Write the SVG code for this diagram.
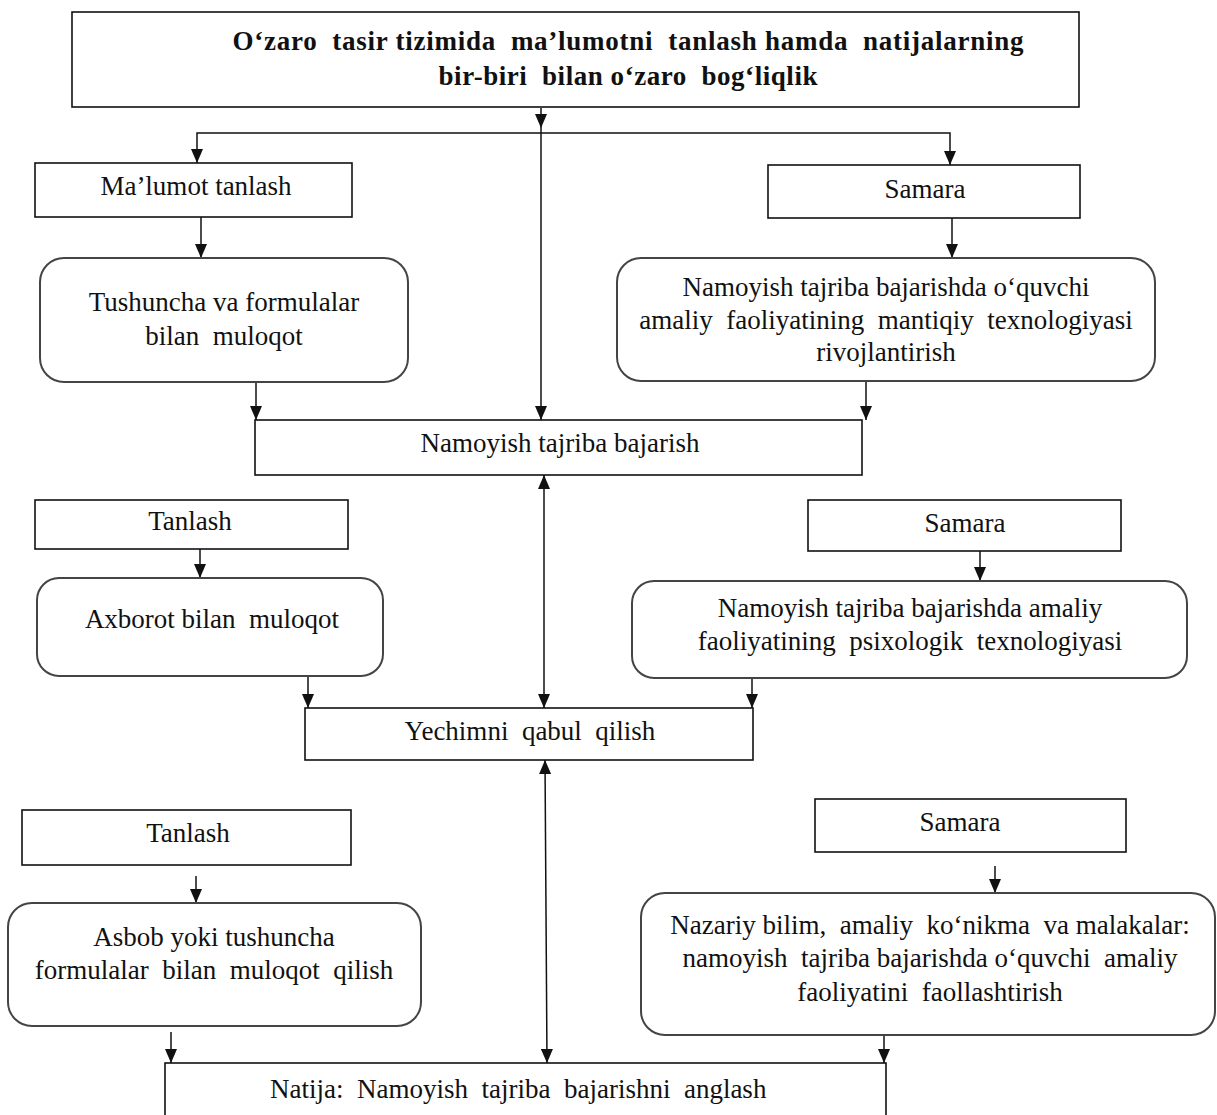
<svg xmlns="http://www.w3.org/2000/svg" width="1217" height="1115" viewBox="0 0 1217 1115">
<defs>
<style>
.box{fill:#fff;stroke:#111;stroke-width:1.6}
.rbox{fill:#fff;stroke:#444;stroke-width:2}
.t{font-family:"Liberation Serif","Times New Roman",serif;font-size:27px;fill:#111;text-anchor:middle;white-space:pre}
.tb{font-family:"Liberation Serif","Times New Roman",serif;font-size:27px;font-weight:bold;fill:#111;text-anchor:middle;white-space:pre}
.c{fill:none;stroke:#111;stroke-width:1.5}
</style>
<marker id="ah" viewBox="0 0 14 12" refX="14" refY="6" markerWidth="14" markerHeight="12" markerUnits="userSpaceOnUse" orient="auto-start-reverse">
<path d="M0,0 L14,6 L0,12 z" fill="#111"/>
</marker>
</defs>
<rect width="1217" height="1115" fill="#fff"/>

<g id="connectors">
<path class="c" d="M541,108 V128" marker-end="url(#ah)"/>
<path class="c" d="M541,128 V420" marker-end="url(#ah)"/>
<path class="c" d="M541,133 H197 V163" marker-end="url(#ah)"/>
<path class="c" d="M541,133 H950 V165" marker-end="url(#ah)"/>
<path class="c" d="M201,217 V258" marker-end="url(#ah)"/>
<path class="c" d="M256,382 V420" marker-end="url(#ah)"/>
<path class="c" d="M952,218 V258" marker-end="url(#ah)"/>
<path class="c" d="M866,381 V420" marker-end="url(#ah)"/>
<path class="c" d="M544,475 V708" marker-start="url(#ah)" marker-end="url(#ah)"/>
<path class="c" d="M200,549 V578" marker-end="url(#ah)"/>
<path class="c" d="M308,676 V708" marker-end="url(#ah)"/>
<path class="c" d="M980,551 V581" marker-end="url(#ah)"/>
<path class="c" d="M752,678 V708" marker-end="url(#ah)"/>
<path class="c" d="M545,760 L547,1063" marker-start="url(#ah)" marker-end="url(#ah)"/>
<path class="c" d="M196,876 V903" marker-end="url(#ah)"/>
<path class="c" d="M171,1032 V1063" marker-end="url(#ah)"/>
<path class="c" d="M995,866 V893" marker-end="url(#ah)"/>
<path class="c" d="M884,1035 V1063" marker-end="url(#ah)"/>
</g>

<g id="title">
<rect class="box" x="72" y="12" width="1007" height="95"/>
<text class="tb" x="628" y="50" textLength="791" lengthAdjust="spacing">O‘zaro  tasir tizimida  ma’lumotni  tanlash hamda  natijalarning</text>
<text class="tb" x="628" y="85" textLength="379" lengthAdjust="spacing">bir-biri  bilan o‘zaro  bog‘liqlik</text>
</g>

<g id="malumot-tanlash">
<rect class="box" x="35" y="163" width="317" height="54"/>
<text class="t" x="196" y="195">Ma’lumot tanlash</text>
</g>

<g id="tushuncha">
<rect class="rbox" x="40" y="258" width="368" height="124" rx="24"/>
<text class="t" x="224" y="311">Tushuncha va formulalar</text>
<text class="t" x="224" y="345">bilan  muloqot</text>
</g>

<g id="samara-1">
<rect class="box" x="768" y="165" width="312" height="53"/>
<text class="t" x="925" y="198">Samara</text>
</g>

<g id="mantiqiy">
<rect class="rbox" x="617" y="258" width="538" height="123" rx="24"/>
<text class="t" x="886" y="296">Namoyish tajriba bajarishda o‘quvchi</text>
<text class="t" x="886" y="329">amaliy  faoliyatining  mantiqiy  texnologiyasi</text>
<text class="t" x="886" y="361">rivojlantirish</text>
</g>

<g id="namoyish">
<rect class="box" x="255" y="420" width="607" height="55"/>
<text class="t" x="560" y="452">Namoyish tajriba bajarish</text>
</g>

<g id="tanlash-1">
<rect class="box" x="35" y="500" width="313" height="49"/>
<text class="t" x="190" y="530">Tanlash</text>
</g>

<g id="axborot">
<rect class="rbox" x="37" y="578" width="346" height="98" rx="22"/>
<text class="t" x="212" y="628">Axborot bilan  muloqot</text>
</g>

<g id="samara-2">
<rect class="box" x="808" y="500" width="313" height="51"/>
<text class="t" x="965" y="532">Samara</text>
</g>

<g id="psixologik">
<rect class="rbox" x="632" y="581" width="555" height="97" rx="22"/>
<text class="t" x="910" y="617">Namoyish tajriba bajarishda amaliy</text>
<text class="t" x="910" y="650">faoliyatining  psixologik  texnologiyasi</text>
</g>

<g id="yechim">
<rect class="box" x="305" y="708" width="448" height="52"/>
<text class="t" x="530" y="740">Yechimni  qabul  qilish</text>
</g>

<g id="tanlash-2">
<rect class="box" x="22" y="810" width="329" height="55"/>
<text class="t" x="188" y="842">Tanlash</text>
</g>

<g id="asbob">
<rect class="rbox" x="8" y="903" width="413" height="123" rx="24"/>
<text class="t" x="214" y="946">Asbob yoki tushuncha</text>
<text class="t" x="214" y="979">formulalar  bilan  muloqot  qilish</text>
</g>

<g id="samara-3">
<rect class="box" x="815" y="799" width="311" height="53"/>
<text class="t" x="960" y="831">Samara</text>
</g>

<g id="nazariy">
<rect class="rbox" x="641" y="893" width="574" height="142" rx="24"/>
<text class="t" x="930" y="934">Nazariy bilim,  amaliy  ko‘nikma  va malakalar:</text>
<text class="t" x="930" y="967">namoyish  tajriba bajarishda o‘quvchi  amaliy</text>
<text class="t" x="930" y="1001">faoliyatini  faollashtirish</text>
</g>

<g id="natija">
<rect class="box" x="165" y="1063" width="721" height="80"/>
<text class="t" x="270" y="1098" style="text-anchor:start">Natija:  Namoyish  tajriba  bajarishni  anglash</text>
</g>
</svg>
